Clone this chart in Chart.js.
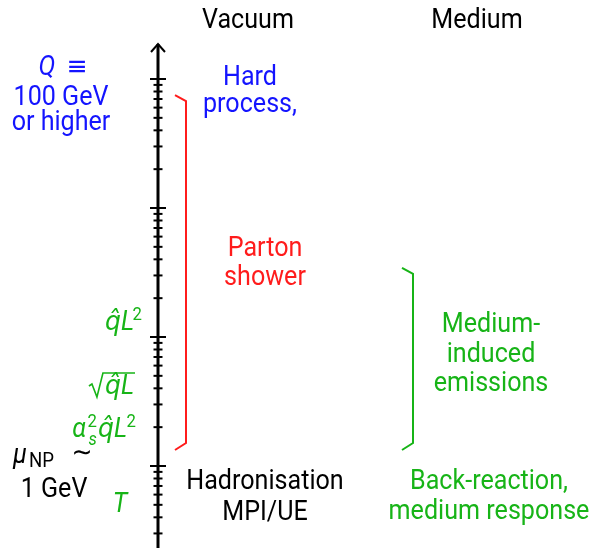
<!DOCTYPE html>
<html>
<head>
<meta charset="utf-8">
<script src="https://cdn.jsdelivr.net/npm/chart.js@4/dist/chart.umd.min.js"></script>
<style>
  body { margin: 0; background: #fff; }
  #wrap { width: 599px; height: 548px; }
</style>
</head>
<body>
<div id="wrap"><canvas id="diagram" width="599" height="548"></canvas></div>
<script>
// energy scale (GeV), log axis
var axisMin = 0.2313;
var axisMax = 4097;
var decades = [0.1, 1, 10, 100, 1000];
var minorSteps = [2, 3, 4, 5, 6, 7, 8, 9];

// ranges covered by the brackets (GeV)
var showerRange = [1.33, 750];
var mediumRange = [1.33, 34.3];

var BLUE = '#1414ff';
var RED = '#ff1c1c';
var GREEN = '#17b417';
var FONT = 'Roboto, "DejaVu Sans", sans-serif';
var SX = 0.93;   // squeeze to get closer to the CM sans proportions

// draws text, returns its drawn width
function txt(ctx, s, x, y, color, size, align, italic) {
    ctx.save();
    ctx.font = (italic ? 'italic ' : '') + size + 'px ' + FONT;
    ctx.fillStyle = color;
    ctx.textAlign = align || 'center';
    ctx.textBaseline = 'alphabetic';
    ctx.translate(x, y);
    ctx.scale(SX, 1);
    ctx.fillText(s, 0, 0);
    var w = ctx.measureText(s).width * SX;
    ctx.restore();
    return w;
}

function bracket(ctx, ys, color, x, lo, hi) {
    var top = ys.getPixelForValue(hi);
    var bot = ys.getPixelForValue(lo);
    ctx.strokeStyle = color;
    ctx.lineWidth = 2;
    ctx.beginPath();
    ctx.moveTo(x - 11, top);
    ctx.lineTo(x, top + 6);
    ctx.lineTo(x, bot - 7);
    ctx.lineTo(x - 11, bot);
    ctx.stroke();
}

var diagramPlugin = {
    id: 'diagram',
    afterDraw: function(chart) {
        var ctx = chart.ctx;
        var xs = chart.scales.x;
        var ys = chart.scales.y;
        var ax = xs.getPixelForValue(158);
        var bottom = chart.chartArea.bottom;
        ctx.save();

        // axis line + arrow
        ctx.strokeStyle = '#000';
        ctx.lineWidth = 3;
        ctx.beginPath();
        ctx.moveTo(ax, bottom);
        ctx.lineTo(ax, 44);
        ctx.stroke();
        ctx.lineWidth = 2;
        ctx.beginPath();
        ctx.moveTo(ax - 7, 52);
        ctx.lineTo(ax, 44);
        ctx.lineTo(ax + 7, 52);
        ctx.stroke();

        // ticks
        decades.forEach(function(d) {
            var p = ys.getPixelForValue(d);
            if (p >= 0 && p <= bottom) {
                ctx.beginPath();
                ctx.moveTo(ax - 8, p);
                ctx.lineTo(ax + 8, p);
                ctx.stroke();
            }
            if (d >= 1000) return;
            minorSteps.forEach(function(m) {
                var q = ys.getPixelForValue(d * m);
                if (q < 0 || q > bottom) return;
                ctx.beginPath();
                ctx.moveTo(ax - 4.5, q);
                ctx.lineTo(ax + 4.5, q);
                ctx.stroke();
            });
        });

        bracket(ctx, ys, RED, xs.getPixelForValue(186), showerRange[0], showerRange[1]);
        bracket(ctx, ys, GREEN, xs.getPixelForValue(413), mediumRange[0], mediumRange[1]);

        var S = 27;
        // headers
        txt(ctx, 'Vacuum', 248, 28, '#000', S);
        txt(ctx, 'Medium', 477, 28, '#000', S);

        // left scale labels
        txt(ctx, 'Q', 47, 75, BLUE, S, 'center', true);
        txt(ctx, '\u2261', 77, 75, BLUE, S);
        txt(ctx, '100 GeV', 61, 105, BLUE, S);
        txt(ctx, 'or higher', 61, 130, BLUE, S);

        txt(ctx, 'Hard', 250, 85, BLUE, S);
        txt(ctx, 'process,', 250, 112, BLUE, S);
        txt(ctx, 'Parton', 265, 256, RED, S);
        txt(ctx, 'shower', 265, 285, RED, S);

        // qhat L^2
        txt(ctx, '2', 142, 320, GREEN, 18, 'right');
        txt(ctx, 'q\u0302L', 134, 330, GREEN, S, 'right', true);

        // sqrt(qhat L): radical drawn as a path
        var rw = txt(ctx, 'q\u0302L', 134, 394, GREEN, S, 'right', true);
        var rx = 134 - rw - 2;
        ctx.strokeStyle = GREEN;
        ctx.lineWidth = 1.6;
        ctx.lineJoin = 'miter';
        ctx.beginPath();
        ctx.moveTo(rx - 14, 386);
        ctx.lineTo(rx - 11, 384);
        ctx.lineTo(rx - 6, 397);
        ctx.lineTo(rx, 373);
        ctx.lineTo(135, 373);
        ctx.stroke();

        // alpha_s^2 qhat L^2
        txt(ctx, '2', 136, 427, GREEN, 18, 'right');
        var qw = txt(ctx, 'q\u0302L', 127, 437, GREEN, S, 'right', true);
        txt(ctx, '2', 127 - qw - 1, 427, GREEN, 18, 'right');
        txt(ctx, 's', 127 - qw - 1, 445, GREEN, 18, 'right', true);
        txt(ctx, '\u03B1', 127 - qw - 12, 437, GREEN, S, 'right', true);

        // mu_NP ~ 1 GeV
        txt(ctx, '\u03BC', 13, 463, '#000', S, 'left', true);
        txt(ctx, 'NP', 29, 467, '#000', 20, 'left');
        txt(ctx, '\u223C', 82, 461, '#000', S);
        txt(ctx, '1 GeV', 54, 497, '#000', S);
        txt(ctx, 'T', 120, 512, GREEN, S, 'center', true);

        txt(ctx, 'Hadronisation', 265, 489, '#000', S);
        txt(ctx, 'MPI/UE', 265, 520, '#000', S);

        txt(ctx, 'Medium-', 491, 332, GREEN, S);
        txt(ctx, 'induced', 491, 362, GREEN, S);
        txt(ctx, 'emissions', 491, 391, GREEN, S);
        txt(ctx, 'Back-reaction,', 489, 489, GREEN, S);
        txt(ctx, 'medium response', 489, 519, GREEN, S);

        ctx.restore();
    }
};

var ctx = document.getElementById('diagram').getContext('2d');
new Chart(ctx, {
    type: 'scatter',
    data: { datasets: [] },
    options: {
        responsive: false,
        animation: false,
        layout: { padding: 0 },
        plugins: {
            legend: { display: false },
            tooltip: { enabled: false }
        },
        scales: {
            x: { type: 'linear', min: 0, max: 599, display: false },
            y: { type: 'logarithmic', min: axisMin, max: axisMax, display: false }
        }
    },
    plugins: [diagramPlugin]
});
</script>
</body>
</html>
